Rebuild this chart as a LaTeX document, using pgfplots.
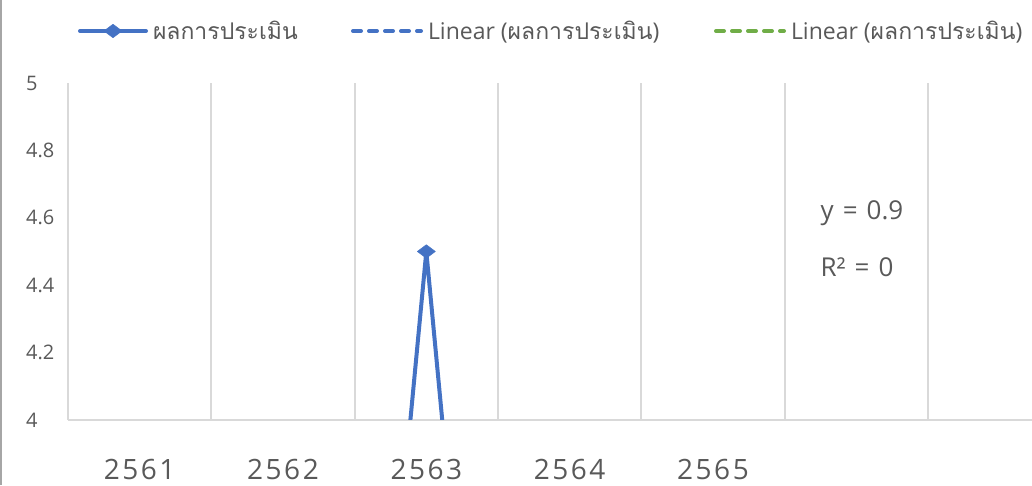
\documentclass[border=0pt]{standalone}
\usepackage{fontspec}
\setmainfont{Open Sans}
\newfontfamily\thaifont[Script=Thai]{Loma}
\newfontfamily\spaced[LetterSpace=9]{Open Sans}
\usepackage{pgfplots}
\pgfplotsset{compat=1.18}
\definecolor{txtgray}{HTML}{595959}
\definecolor{gridgray}{HTML}{D9D9D9}
\definecolor{serblue}{HTML}{4472C4}
\definecolor{trgreen}{HTML}{70AD47}
\definecolor{framegray}{HTML}{A6A6A6}
\pgfplotsset{
  lineleg/.style={legend image code/.code={\draw[##1, mark=none] (2pt,0pt) -- (70pt,0pt);}},
  markleg/.style={legend image code/.code={\draw[##1, mark=none] (2pt,0pt) -- (68pt,0pt);
    \draw[##1] plot coordinates {(35pt,0pt)};}},
}

\begin{document}
\begin{tikzpicture}[x=1pt,y=1pt]
\useasboundingbox (0,0) rectangle (1032,485);
\draw[framegray, line width=1.5pt] (1,0) -- (1,485);
\begin{axis}[
  at={(68pt,65pt)}, anchor=south west,
  width=964pt, height=337pt, scale only axis,
  xmin=0.5, xmax=7.226, ymin=4, ymax=5,
  axis x line*=bottom, axis y line*=left,
  x axis line style={gridgray, line width=2pt},
  y axis line style={draw=none},
  xtick={1,2,3,4,5}, xticklabels={2561,2562,2563,2564,2565},
  ytick={4,4.2,4.4,4.6,4.8,5}, yticklabels={4,4.2,4.4,4.6,4.8,5},
  major tick length=0pt,
  xticklabel style={anchor=center, yshift=-50pt, inner sep=0pt,
    font=\spaced\fontsize{28}{30}\selectfont, text=txtgray},
  yticklabel style={anchor=west, xshift=-42pt, inner sep=0pt,
    font=\fontsize{20}{22}\selectfont, text=txtgray},
  extra x ticks={0.5,1.5,2.5,3.5,4.5,5.5,6.5},
  extra x tick labels={},
  extra x tick style={grid=major},
  major grid style={draw=gridgray, line width=2pt},
  legend columns=3,
  legend cell align=left,
  legend style={at={(0.01037,1.1543)}, anchor=west, draw=none, fill=none,
    inner sep=0pt, outer sep=0pt,
    nodes={inner sep=0pt, text=txtgray, font=\fontsize{23}{25}\selectfont},
    /tikz/every even column/.style={column sep=0pt},
    /tikz/every odd column/.style={column sep=0pt}},
  lineleg,
]
% ผลการประเมิน
\addplot[serblue, line width=4pt, line join=round, line cap=round,
  mark=diamond*, mark size=9pt, mark options={rotate=90, line width=0.5pt, solid},
  markleg]
  coordinates {(1,0) (2,0) (3,4.5) (4,0) (5,0)};
\addlegendentry{\makebox[203pt][l]{\hspace{5pt}{\thaifont ผลการประเมิน}}}
% Linear trendline, blue
\addplot[serblue, line width=4pt, line cap=round, dash pattern=on 8pt off 8pt]
  coordinates {(1,0.9) (5,0.9)};
\addlegendentry{\makebox[291pt][l]{\hspace{5pt}Linear ({\thaifont ผลการประเมิน})}}
% Linear trendline, green
\addplot[trgreen, line width=4pt, line cap=round, dash pattern=on 8pt off 8pt]
  coordinates {(1,0.9) (5,0.9)};
\addlegendentry{\makebox[245pt][l]{\hspace{5pt}Linear ({\thaifont ผลการประเมิน})}}
\node[text=txtgray, font=\fontsize{26}{28}\selectfont] at (axis cs:6.04,4.614) {y\hspace{9pt}=\hspace{9pt}0.9};
\node[text=txtgray, font=\fontsize{26}{28}\selectfont] at (axis cs:6.005,4.454) {R²\hspace{9pt}=\hspace{9pt}0};
\end{axis}
\end{tikzpicture}
\end{document}
